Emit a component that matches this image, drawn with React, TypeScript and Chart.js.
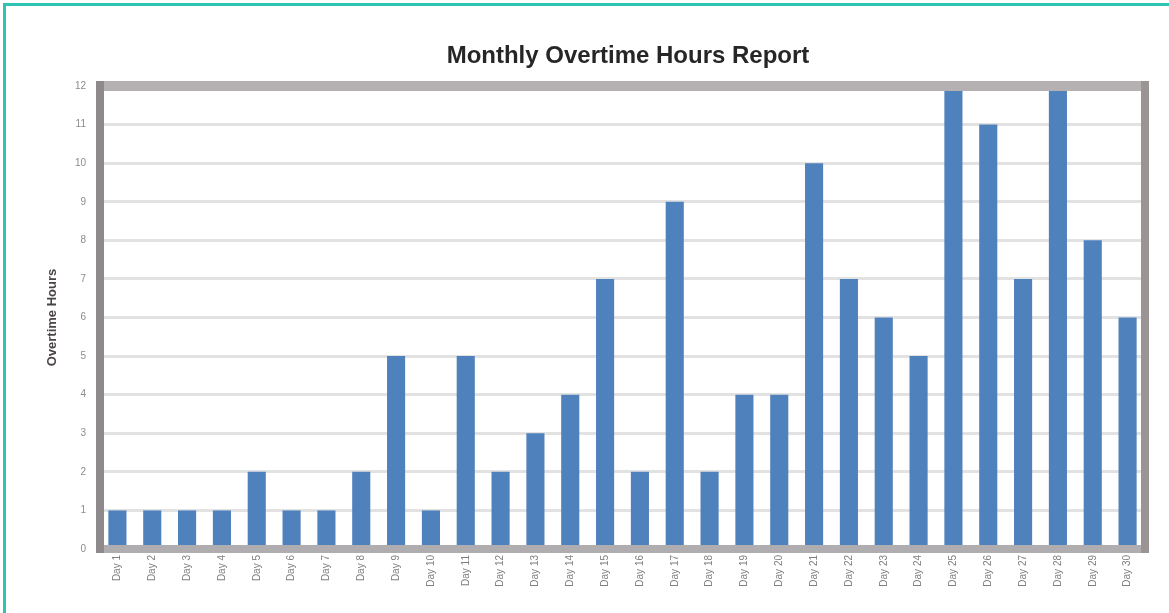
import React, { useEffect, useRef } from "react";
import { Chart, registerables } from "chart.js";

Chart.register(...registerables);

const chartTitle = "Monthly Overtime Hours Report";
const yAxisTitle = "Overtime Hours";
const categories = [
  "Day 1", "Day 2", "Day 3", "Day 4", "Day 5", "Day 6", "Day 7", "Day 8", "Day 9", "Day 10",
  "Day 11", "Day 12", "Day 13", "Day 14", "Day 15", "Day 16", "Day 17", "Day 18", "Day 19", "Day 20",
  "Day 21", "Day 22", "Day 23", "Day 24", "Day 25", "Day 26", "Day 27", "Day 28", "Day 29", "Day 30",
];
const values = [1, 1, 1, 1, 2, 1, 1, 2, 5, 1, 5, 2, 3, 4, 7, 2, 9, 2, 4, 4, 10, 7, 6, 5, 12, 11, 7, 12, 8, 6];
const yMin = 0;
const yMax = 12;
const yStep = 1;

const FONT = "'Liberation Sans', Arial, sans-serif";

const framePlugin = {
  id: "frame",
  afterDatasetsDraw(chart: any) {
    const { ctx, chartArea } = chart;
    const { left, right, top, bottom } = chartArea;
    ctx.save();
    ctx.lineCap = "butt";
    ctx.strokeStyle = "#b0adb0";
    ctx.lineWidth = 8;
    ctx.beginPath();
    ctx.moveTo(left - 4, bottom);
    ctx.lineTo(right + 4, bottom);
    ctx.stroke();
    ctx.strokeStyle = "#b5b1b2";
    ctx.lineWidth = 10;
    ctx.beginPath();
    ctx.moveTo(left - 4, top);
    ctx.lineTo(right + 4, top);
    ctx.stroke();
    ctx.strokeStyle = "#8e898a";
    ctx.lineWidth = 8;
    ctx.beginPath();
    ctx.moveTo(left, top - 5);
    ctx.lineTo(left, bottom + 4);
    ctx.stroke();
    ctx.strokeStyle = "#9a9495";
    ctx.beginPath();
    ctx.moveTo(right, top - 5);
    ctx.lineTo(right, bottom + 4);
    ctx.stroke();
    ctx.restore();
  },
  afterDraw(chart: any) {
    const { ctx } = chart;
    ctx.save();
    ctx.fillStyle = "#262626";
    ctx.font = `bold 24px ${FONT}`;
    ctx.textAlign = "center";
    ctx.textBaseline = "middle";
    ctx.fillText(chartTitle, 628, 56);
    ctx.restore();
  },
};

export default function App() {
  const ref = useRef<HTMLCanvasElement | null>(null);

  useEffect(() => {
    if (!ref.current) return;
    const chart = new Chart(ref.current, {
      type: "bar",
      data: {
        labels: categories,
        datasets: [
          {
            data: values,
            backgroundColor: "#4f81bd",
            borderWidth: 0,
            barPercentage: 0.52,
            categoryPercentage: 1,
          },
        ],
      },
      plugins: [framePlugin],
      options: {
        animation: false,
        responsive: false,
        devicePixelRatio: 1,
        layout: { padding: { left: 0, right: 24, top: 86, bottom: 0 } },
        plugins: {
          legend: { display: false },
          title: { display: false },
          tooltip: { enabled: false },
        },
        scales: {
          x: {
            grid: { display: false, drawTicks: false },
            border: { display: false },
            ticks: {
              minRotation: 90,
              maxRotation: 90,
              autoSkip: false,
              padding: 6,
              color: "#7f7f7f",
              font: { family: FONT, size: 10 },
            },
            afterFit(scale: any) {
              scale.height = 64;
            },
          },
          y: {
            min: yMin,
            max: yMax,
            grid: { color: "#e2e2e2", lineWidth: 3, drawTicks: false },
            border: { display: false },
            ticks: {
              stepSize: yStep,
              padding: 14,
              color: "#8c8c8c",
              font: { family: FONT, size: 10 },
            },
            title: {
              display: true,
              text: yAxisTitle,
              color: "#4a4446",
              font: { family: FONT, size: 13, weight: "bold" },
              padding: { top: 45, bottom: 0 },
            },
            afterFit(scale: any) {
              scale.width = 100;
            },
          },
        },
      },
    });
    return () => chart.destroy();
  }, []);

  return (
    <div style={{ position: "fixed", left: 0, top: 0, width: 1169, height: 613, background: "#fff" }}>
      <div
        style={{
          position: "absolute",
          left: 3,
          top: 3,
          width: 1166,
          height: 610,
          borderTop: "3px solid #2ec4b4",
          borderLeft: "3px solid #2ec4b4",
          boxSizing: "border-box",
        }}
      />
      <canvas ref={ref} width={1169} height={613} style={{ position: "absolute", left: 0, top: 0 }} />
    </div>
  );
}
